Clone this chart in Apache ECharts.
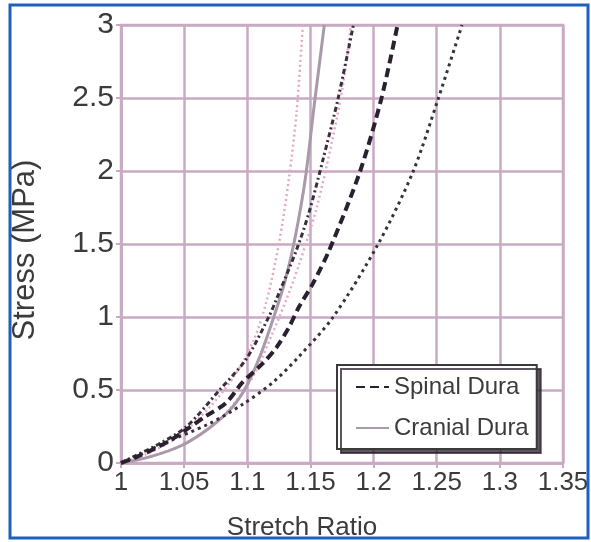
<!DOCTYPE html>
<html>
<head>
<meta charset="utf-8">
<script src="https://cdn.jsdelivr.net/npm/echarts@6/dist/echarts.min.js"></script>
<style>
html,body{margin:0;padding:0;background:#fff;}
#chart{width:591px;height:542px;}
</style>
</head>
<body>
<div id="chart"></div>
<script>
// Tick values
var xTicks = [1, 1.05, 1.1, 1.15, 1.2, 1.25, 1.3, 1.35];
var yTicks = [0, 0.5, 1, 1.5, 2, 2.5, 3];

// Spinal dura: mean (thick dashed) and +/- SD (black dotted)
var spinalMean = [[1,0],[1.012,0.04],[1.036,0.14],[1.052,0.23],[1.067,0.32],[1.083,0.41],[1.096,0.55],[1.112,0.68],[1.123,0.79],[1.133,0.93],[1.141,1.07],[1.152,1.23],[1.165,1.46],[1.189,1.99],[1.206,2.49],[1.219,3.0]];
var spinalLow = [[1,0],[1.009,0.04],[1.03,0.13],[1.052,0.25],[1.078,0.5],[1.099,0.71],[1.117,1.0],[1.123,1.12],[1.139,1.46],[1.149,1.72],[1.16,2.08],[1.172,2.5],[1.184,3.0]];
var spinalHigh = [[1,0],[1.009,0.03],[1.03,0.12],[1.07,0.27],[1.096,0.4],[1.12,0.55],[1.141,0.73],[1.168,1.0],[1.203,1.49],[1.231,1.99],[1.251,2.49],[1.27,3.0]];

// Cranial dura: mean (solid gray) and +/- SD (pink dotted)
var cranialMean = [[1,0],[1.022,0.04],[1.048,0.12],[1.07,0.24],[1.088,0.38],[1.099,0.52],[1.11,0.73],[1.121,1.0],[1.13,1.25],[1.138,1.55],[1.146,1.95],[1.153,2.45],[1.161,3.0]];
var cranialLow = [[1,0],[1.02,0.06],[1.045,0.18],[1.07,0.38],[1.09,0.6],[1.105,0.84],[1.115,1.1],[1.125,1.5],[1.133,1.95],[1.139,2.4],[1.144,3.0]];
var cranialHigh = [[1,0],[1.03,0.06],[1.06,0.18],[1.085,0.36],[1.105,0.6],[1.12,0.89],[1.131,1.12],[1.141,1.36],[1.155,1.75],[1.167,2.2],[1.176,2.6],[1.182,3.0]];

var FONT = 'Liberation Sans, Arial, sans-serif';
var gridColor = '#c9aac3';
var chart = echarts.init(document.getElementById('chart'), null, {renderer:'canvas'});

function line(name, data, color, width, type, z){
  return {name:name, type:'line', data:data, symbol:'none', smooth:0.3, z:z||2,
    lineStyle:{color:color, width:width, type:type}, itemStyle:{color:color}, silent:true};
}

chart.setOption({
  animation:false,
  backgroundColor:'#fff',
  grid:{left:121, right:28, top:25, bottom:79, show:true, borderColor:gridColor, borderWidth:2.5,
    containLabel:false, outerBoundsMode:'none'},
  xAxis:{type:'value', min:xTicks[0], max:xTicks[xTicks.length-1], interval:0.05,
    name:'Stretch Ratio', nameLocation:'middle', nameGap:52,
    nameTextStyle:{fontSize:26, color:'#3b3b3b', fontFamily:FONT, padding:[0,80,0,0]},
    axisLine:{show:true, lineStyle:{color:gridColor, width:2.5}},
    axisTick:{show:true, length:5, lineStyle:{color:gridColor, width:2}},
    axisLabel:{fontSize:26, color:'#3b3b3b', fontFamily:FONT, margin:7},
    splitLine:{show:true, lineStyle:{color:gridColor, width:2.5}}
  },
  yAxis:{type:'value', min:yTicks[0], max:yTicks[yTicks.length-1], interval:0.5,
    name:'Stress (MPa)', nameLocation:'middle', nameRotate:90, nameGap:80,
    nameTextStyle:{fontSize:31, color:'#3b3b3b', fontFamily:FONT, padding:[0,12,0,0]},
    axisLine:{show:true, lineStyle:{color:gridColor, width:2.5}},
    axisTick:{show:true, length:5, lineStyle:{color:gridColor, width:2}},
    axisLabel:{fontSize:30, color:'#3b3b3b', fontFamily:FONT, margin:7},
    splitLine:{show:true, lineStyle:{color:gridColor, width:2.5}}
  },
  legend:{orient:'vertical', left:337, top:365, padding:[10,8,9,18], itemGap:17,
    itemWidth:33, itemHeight:14, backgroundColor:'#fff', borderColor:'#3a3a3a', borderWidth:2,
    shadowColor:'rgba(40,30,40,0.75)', shadowOffsetX:4, shadowOffsetY:4, shadowBlur:0,
    itemStyle:{opacity:0},
    textStyle:{fontSize:24, color:'#3b3b3b', fontFamily:FONT},
    data:['Spinal Dura','Cranial Dura']},
  graphic:[{type:'rect', shape:{x:10, y:5, width:578, height:533}, style:{fill:null, stroke:'#1f5fbf', lineWidth:3}, z:100}],
  series:[
    line('Cranial Dura', cranialMean, '#a999a9', 3, 'solid', 3),
    line('Cranial SD-', cranialLow, '#e6a6c6', 2.5, [2,3], 2),
    line('Cranial SD+', cranialHigh, '#e6a6c6', 2.5, [2,3], 2),
    line('Spinal SD-', spinalLow, '#3a2f3c', 3, [5,3,2,3], 4),
    line('Spinal SD+', spinalHigh, '#3a2f3c', 3, [3,4], 4),
    line('Spinal Dura', spinalMean, '#2a2030', 4, [9,5], 5)
  ]
});
</script>
</body>
</html>
